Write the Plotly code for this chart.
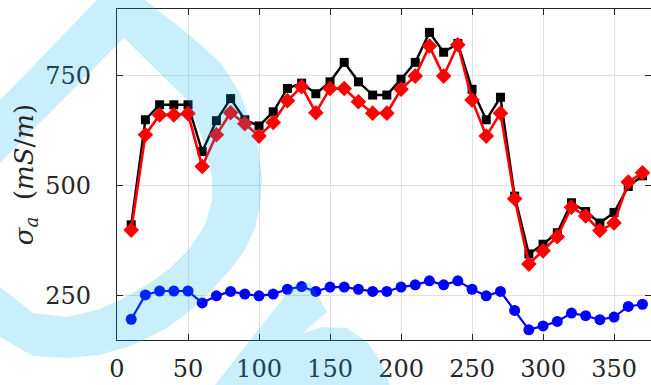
import plotly.graph_objects as go

# ---- data ----
x_vals = [10, 20, 30, 40, 50, 60, 70, 80, 90, 100, 110, 120, 130, 140, 150, 160, 170, 180, 190,
          200, 210, 220, 230, 240, 250, 260, 270, 280, 290, 300, 310, 320, 330, 340, 350, 360, 370]
black_vals = [411, 649, 683, 683, 683, 577, 647, 697, 649, 635, 667, 720, 732, 708, 735, 779, 735, 705, 705,
              741, 779, 847, 802, 822, 718, 649, 700, 476, 345, 367, 393, 461, 441, 415, 439, 498, 522]
red_vals = [399, 615, 660, 660, 663, 543, 615, 665, 640, 612, 643, 692, 724, 665, 720, 720, 690, 664, 664,
            718, 748, 816, 748, 819, 694, 612, 664, 470, 322, 352, 384, 451, 431, 398, 415, 508, 529]
blue_vals = [197, 252, 261, 261, 261, 234, 250, 260, 254, 250, 254, 265, 271, 260, 270, 270, 265, 260, 260,
             270, 275, 284, 275, 284, 265, 250, 260, 217, 173, 182, 192, 211, 205, 196, 202, 226, 231]
x_ticks = [0, 50, 100, 150, 200, 250, 300, 350]
y_ticks = [250, 500, 750]

W, H = 651, 385
ML, MR, MT, MB = 117, 0, 9, 45
PW, PH = W - ML - MR, H - MT - MB

fig = go.Figure()
fig.add_trace(go.Scatter(x=x_vals, y=black_vals, mode="lines+markers",
                         line=dict(color="black", width=2.4),
                         marker=dict(symbol="square", size=9, color="black")))
fig.add_trace(go.Scatter(x=x_vals, y=red_vals, mode="lines+markers",
                         line=dict(color="#ff0000", width=2.6),
                         marker=dict(symbol="diamond", size=12, color="#ff0000")))
fig.add_trace(go.Scatter(x=x_vals, y=blue_vals, mode="lines+markers",
                         line=dict(color="#0000ff", width=2.2),
                         marker=dict(symbol="circle", size=11, color="#0000ff")))

# ---- decorative watermark (pixel outline -> paper coords) ----
def to_path(pts):
    segs = []
    for i, (px, py) in enumerate(pts):
        u = (px - ML) / PW
        v = 1 - (py - MT) / PH
        segs.append(("M" if i == 0 else "L") + f"{u:.4f},{v:.4f}")
    return " ".join(segs) + " Z"

wm_a = [(0, 100), (97, 0), (145, 0), (187, 33), (220, 62), (240, 93), (257, 140), (262, 177),
        (260, 205), (255, 228), (245, 250), (230, 270), (210, 292), (190, 311), (167, 328),
        (133, 345), (100, 355), (67, 358), (33, 356), (0, 337), (0, 287), (33, 313), (67, 317),
        (100, 309), (120, 300), (150, 283), (170, 268), (190, 248), (205, 225), (212, 200),
        (212, 177), (203, 140), (187, 100), (124, 38), (0, 163)]
wm_b = [(215, 385), (250, 340), (293, 286), (310, 282), (327, 312), (303, 333), (323, 327),
        (347, 328), (367, 342), (380, 360), (390, 385)]
shapes = []
for pts in (wm_a, wm_b):
    shapes.append(dict(type="path", xref="paper", yref="paper", path=to_path(pts),
                       fillcolor="#00AEEF", opacity=0.21, line=dict(width=0), layer="above"))

SERIF = "DejaVu Serif"
tick_font = dict(family=SERIF, size=24)
fig.update_layout(
    width=W, height=H,
    margin=dict(l=ML, r=MR, t=MT, b=MB, autoexpand=False),
    paper_bgcolor="white", plot_bgcolor="white",
    showlegend=False,
    shapes=shapes,
    font=dict(family=SERIF, color="#262626"),
    xaxis=dict(range=[0, 376], tickvals=x_ticks, ticks="inside", ticklen=6, tickcolor="#262626",
               showline=True, linecolor="#262626", linewidth=1.2, mirror="ticks",
               showgrid=True, gridcolor="#e0e0e0", gridwidth=1, zeroline=False,
               tickfont=tick_font, ticklabelstandoff=7, automargin=False),
    yaxis=dict(range=[150, 900], tickvals=y_ticks, ticks="inside", ticklen=6, tickcolor="#262626",
               showline=True, linecolor="#262626", linewidth=1.2, mirror="ticks",
               showgrid=True, gridcolor="#e0e0e0", gridwidth=1, zeroline=False,
               tickfont=tick_font, ticklabelstandoff=20, automargin=False,
               title=dict(text="<i>σ</i><sub><i>a</i></sub>  (<i>mS</i>/<i>m</i>)",
                          font=dict(family=SERIF, size=26),
                          standoff=4)),
)

fig.write_html("out.html", config={"displayModeBar": False},
               post_script="document.body.style.margin='0px';")
